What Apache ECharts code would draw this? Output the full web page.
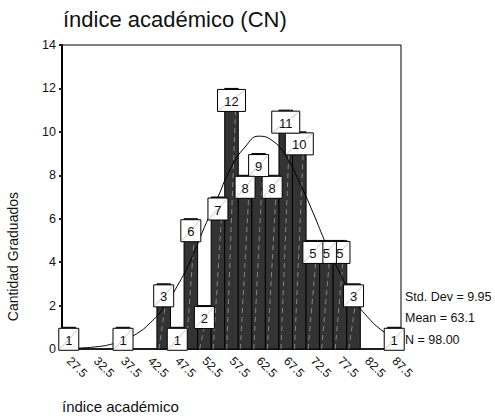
<!DOCTYPE html>
<html>
<head>
<meta charset="utf-8">
<script src="https://cdn.jsdelivr.net/npm/echarts@6/dist/echarts.min.js"></script>
<style>
    html, body { margin: 0; padding: 0; background: #fff; }
    #main { width: 495px; height: 418px; }
</style>
</head>
<body>
<div id="main"></div>
<script>
// histograma, clases de 2.5 (centros)
const bins = ['27.5', '30', '32.5', '35', '37.5', '40', '42.5', '45', '47.5', '50', '52.5', '55', '57.5',
    '60', '62.5', '65', '67.5', '70', '72.5', '75', '77.5', '80', '82.5', '85', '87.5']
const counts = [1, 0, 0, 0, 1, 0, 0, 3, 1, 6, 2, 7, 12, 8, 9, 8, 11, 10, 5, 5, 5, 3, 0, 0, 1]
// curva normal, en cada centro de clase
const curve = [0, 0.05, 0.1, 0.2, 0.4, 0.7, 1.2, 1.9, 2.9, 4.1, 5.6, 7.0, 8.4, 9.3, 9.8, 9.6, 8.9, 7.7,
    6.3, 4.8, 3.5, 2.3, 1.5, 0.9, 0.5]
const yTicks = [0, 2, 4, 6, 8, 10, 12, 14]
const stats = ['Std. Dev = 9.95', 'Mean = 63.1', 'N = 98.00']

const FONT = '"Liberation Sans", Arial, sans-serif'
const chart = echarts.init(document.getElementById('main'), null, { renderer: 'svg' })

const renderBar = (params, api) => {
    const v = api.value(1)
    if (!v) return
    const top = api.coord([api.value(0), v])
    const base = api.coord([api.value(0), 0])
    const w = api.size([1, 0])[0]
    const x0 = top[0] - w / 2
    return {
        type: 'group',
        children: [
            {
                type: 'rect',
                shape: { x: x0, y: top[1], width: w, height: base[1] - top[1] },
                style: { fill: '#333333', stroke: '#000', lineWidth: 1 },
            },
            {
                type: 'line',
                shape: { x1: x0 + 2, y1: base[1], x2: x0 + w - 2, y2: top[1] },
                style: { stroke: 'rgba(255,255,255,0.4)', lineWidth: 1, lineDash: [5, 4] },
            },
        ],
    }
}

const renderLabel = (params, api) => {
    const v = api.value(1)
    if (!v) return
    const top = api.coord([api.value(0), v])
    const t = String(v)
    const bw = t.length > 1 ? 28 : 20
    const bh = 22
    const x0 = top[0] - bw / 2
    const y0 = top[1] + 1
    return {
        type: 'group',
        children: [
            {
                type: 'rect',
                shape: { x: x0, y: y0, width: bw, height: bh },
                style: { fill: '#fff', stroke: '#000', lineWidth: 1 },
            },
            {
                type: 'line',
                shape: { x1: x0 + 1, y1: y0 + bh - 1, x2: x0 + bw - 1, y2: y0 + 1 },
                style: { stroke: '#c8c8c8', lineWidth: 1 },
            },
            {
                type: 'text',
                style: {
                    x: top[0], y: y0 + bh / 2 + 1, text: t, fill: '#111',
                    font: '13px ' + FONT, align: 'center', verticalAlign: 'middle',
                },
            },
        ],
    }
}

const statTexts = stats.map((s, i) => ({
    type: 'text',
    left: 405,
    top: 290 + i * 21.5,
    style: { text: s, fill: '#111', font: '12.5px ' + FONT },
}))

chart.setOption({
    animation: false,
    grid: {
        left: 62,
        top: 45,
        width: 339,
        height: 304,
        show: true,
        borderColor: '#000',
        borderWidth: 1,
    },
    xAxis: {
        type: 'category',
        data: bins,
        boundaryGap: true,
        axisLine: { lineStyle: { color: '#000', width: 1.5 } },
        axisTick: { alignWithLabel: true, interval: 1, length: 3, lineStyle: { color: '#222', width: 2 } },
        axisLabel: {
            interval: 1,
            rotate: -45,
            margin: 10,
            color: '#111',
            fontSize: 12,
            fontFamily: FONT,
        },
        splitLine: { show: false },
    },
    yAxis: {
        type: 'value',
        min: yTicks[0],
        max: yTicks[yTicks.length - 1],
        interval: 2,
        axisLine: { show: true, lineStyle: { color: '#000', width: 2 } },
        axisTick: { show: true, length: 3, lineStyle: { color: '#222', width: 2 } },
        axisLabel: { margin: 6, color: '#111', fontSize: 12.5, fontFamily: FONT },
        splitLine: { show: false },
    },
    series: [
        {
            type: 'custom',
            z: 1,
            renderItem: renderBar,
            data: counts.map((v, i) => [i, v]),
        },
        {
            type: 'line',
            z: 2,
            data: curve,
            smooth: true,
            symbol: 'none',
            lineStyle: { color: '#000', width: 1 },
        },
        {
            type: 'custom',
            z: 3,
            renderItem: renderLabel,
            // al reves: las cajas de la izquierda quedan encima
            data: counts.map((v, i) => [i, v]).reverse(),
        },
    ],
    graphic: [
        {
            type: 'text',
            left: 63,
            top: 8,
            style: { text: 'índice académico (CN)', fill: '#111', font: '22px ' + FONT },
        },
        {
            type: 'text',
            left: 62,
            top: 399,
            style: { text: 'índice académico', fill: '#111', font: '15px ' + FONT },
        },
        {
            type: 'text',
            left: 6,
            top: 192,
            rotation: Math.PI / 2,
            style: { text: 'Cantidad Graduados', fill: '#111', font: '14px ' + FONT },
        },
        ...statTexts,
    ],
})
</script>
</body>
</html>
